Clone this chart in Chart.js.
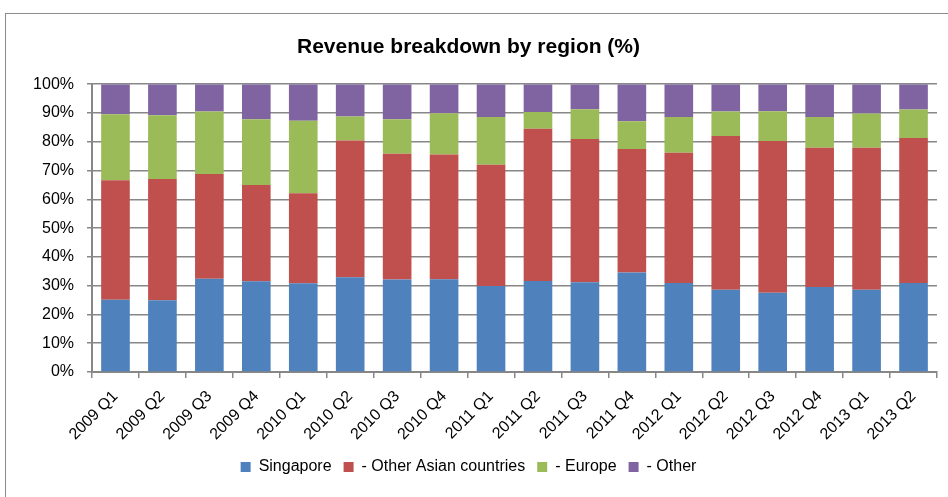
<!DOCTYPE html>
<html>
<head>
<meta charset="utf-8">
<script src="https://cdn.jsdelivr.net/npm/chart.js@4.4.1/dist/chart.umd.min.js"></script>
<style>
  html, body { margin: 0; padding: 0; background: #fff; overflow: hidden; }
  #wrap { position: absolute; left: 0; top: 0; width: 948px; height: 497px; }
  #frame { position: absolute; left: 5px; top: 13px; width: 1000px; height: 1000px;
           border: 1px solid #8c8c8c; pointer-events: none; }
</style>
</head>
<body>
<div id="frame"></div>
<div id="wrap"><canvas id="regionChart" width="948" height="497"></canvas></div>
<script>
// Kwartalen op de x-as
const quarters = ['2009 Q1', '2009 Q2', '2009 Q3', '2009 Q4', '2010 Q1', '2010 Q2', '2010 Q3', '2010 Q4',
    '2011 Q1', '2011 Q2', '2011 Q3', '2011 Q4', '2012 Q1', '2012 Q2', '2012 Q3', '2012 Q4', '2013 Q1', '2013 Q2'];

// Aandeel per regio (%)
const singapore = [25.1, 24.9, 32.4, 31.5, 30.8, 32.9, 32.1, 32.2, 29.9, 31.6, 31.2, 34.6, 30.9, 28.6, 27.5, 29.5, 28.6, 30.9];
const otherAsia = [41.5, 42.2, 36.4, 33.5, 31.3, 47.5, 43.7, 43.4, 42.1, 52.9, 49.8, 42.9, 45.3, 53.4, 52.8, 48.4, 49.3, 50.4];
const europe = [23.0, 22.1, 21.7, 22.8, 25.2, 8.4, 12.0, 14.3, 16.6, 5.8, 10.3, 9.6, 12.4, 8.5, 10.3, 10.7, 11.9, 9.9];
const other = [10.4, 10.8, 9.5, 12.2, 12.7, 11.2, 12.2, 10.1, 11.4, 9.7, 8.7, 12.9, 11.4, 9.5, 9.4, 11.4, 10.2, 8.8];

const seriesNames = ['Singapore', '- Other Asian countries', '- Europe', '- Other'];
const seriesColors = ['#4F81BD', '#C0504D', '#9BBB59', '#8064A2'];

const fontFamily = '"Liberation Sans Narrow", "Arial Narrow", "Liberation Sans", Arial, sans-serif';
const gridGray = '#878787';

const datasets = [singapore, otherAsia, europe, other].map((values, i) => {
    return {
        label: seriesNames[i],
        data: values,
        backgroundColor: seriesColors[i],
        borderWidth: 0,
        barPercentage: 0.61,
        categoryPercentage: 1.0
    };
});

const ctx = document.getElementById('regionChart').getContext('2d');

new Chart(ctx, {
    type: 'bar',
    data: {
        labels: quarters,
        datasets: datasets
    },
    options: {
        responsive: false,
        animation: false,
        layout: {
            padding: { left: 0, right: 11, top: 35, bottom: 12 }
        },
        scales: {
            x: {
                stacked: true,
                grid: {
                    display: true,
                    drawOnChartArea: false,
                    drawTicks: true,
                    tickLength: 6,
                    color: gridGray,
                    lineWidth: 1.5,
                    offset: true
                },
                border: { display: true, color: gridGray, width: 2 },
                ticks: {
                    color: '#000',
                    font: { family: fontFamily, size: 16 },
                    maxRotation: 45,
                    minRotation: 45,
                    padding: 9,
                    autoSkip: false
                },
                afterFit: scale => { scale.height = 75; }
            },
            y: {
                stacked: true,
                min: 0,
                max: 100,
                grid: {
                    color: gridGray,
                    lineWidth: 1.5,
                    borderDash: [7, 3],
                    tickBorderDash: [],
                    tickLength: 5,
                    tickColor: gridGray
                },
                border: { display: true, color: gridGray, width: 2 },
                ticks: {
                    stepSize: 10,
                    color: '#000',
                    font: { family: fontFamily, size: 16 },
                    padding: 13,
                    callback: value => value + '%'
                },
                afterFit: scale => { scale.width = 92; }
            }
        },
        plugins: {
            title: {
                display: true,
                text: 'Revenue breakdown by region (%)',
                color: '#000',
                font: { family: fontFamily, size: 21, weight: 'bold' },
                padding: { top: 0, bottom: 24 }
            },
            legend: {
                position: 'bottom',
                labels: {
                    color: '#000',
                    font: { family: fontFamily, size: 16 },
                    boxWidth: 10,
                    boxHeight: 10,
                    padding: 12
                }
            },
            tooltip: { enabled: false }
        }
    }
});
</script>
</body>
</html>
